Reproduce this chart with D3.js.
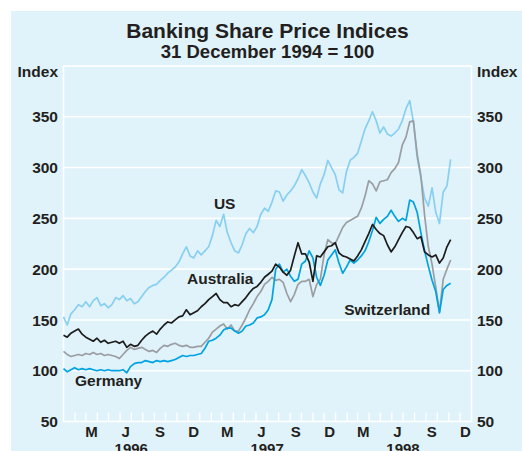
<!DOCTYPE html>
<html>
<head>
<meta charset="utf-8">
<script src="https://cdn.jsdelivr.net/npm/d3@7"></script>
<style>
  html, body { margin: 0; padding: 0; background: #fff; }
  svg { display: block; font-family: "Liberation Sans", Arial, Helvetica, sans-serif; font-weight: bold; }
</style>
</head>
<body>
<div id="chart"></div>
<script>
// observations every 10 days from the start date
const startDate = "1996-01-01";
const stepDays = 10;

const usValues = [153,145,156,160,165,163,168,163,169,172, 164,166,162,165,172,170,174,169,171,166,
  168,173,178,182,184,185,189,192,196,199, 202,207,215,222,213,211,218,214,218,222,
  233,248,242,254,236,226,218,216,224,235, 240,236,242,254,260,257,266,277,276,267,
  273,277,282,289,298,292,285,276,270,284, 293,307,300,293,278,275,296,307,310,314,
  326,338,346,355,346,334,340,333,331,334, 338,346,358,366,345,310,290,270,262,280,
  256,245,276,282,308];

const australiaValues = [135,133,137,139,141,136,133,131,129,132, 128,130,127,128,129,127,129,123,126,124,
  125,130,134,137,139,136,141,145,148,147, 150,153,154,160,155,157,159,163,166,170,
  173,176,170,167,167,163,165,164,168,172, 177,181,183,187,192,195,198,205,202,197,
  194,199,213,226,215,215,207,188,213,212, 217,222,223,226,216,213,212,210,208,213,
  219,227,235,244,239,235,233,224,217,222, 229,236,242,241,236,230,232,217,214,212,
  214,206,211,222,229];

const germanyValues = [102,99,101,103,101,102,101,102,101,100, 101,100,101,100,100,100,101,98,104,107,
  108,108,110,109,108,110,109,110,109,110, 111,113,115,114,115,115,116,117,122,129,
  130,132,135,140,142,142,139,137,139,144, 145,147,152,153,155,160,170,200,205,197,
  200,193,188,190,205,208,218,211,192,184, 194,209,214,219,206,196,202,209,206,209,
  213,218,227,238,251,245,249,252,258,252, 247,250,248,268,266,256,236,218,203,189,
  178,157,180,184,186];

const switzerlandValues = [119,116,114,115,116,115,117,116,118,116, 117,115,116,115,114,112,116,120,123,121,
  122,123,121,119,120,118,122,125,124,126, 127,125,124,125,123,123,124,124,128,132,
  138,141,144,146,141,145,139,139,145,152, 160,166,173,178,185,188,192,189,190,187,
  176,168,175,185,188,188,190,173,185,190, 214,229,226,225,233,241,246,248,250,252,
  260,272,287,284,277,286,287,288,295,299, 305,322,330,345,346,313,292,253,222,205,
  182,158,190,200,209];

const seriesNames = ["US", "Switzerland", "Germany", "Australia"];
const seriesColors = ["#88cff1", "#9a9ea2", "#00a3e2", "#1c1c1c"];
const yTicks = [50, 100, 150, 200, 250, 300, 350];
const years = [1996, 1997, 1998];
const monthLetters = ["M", "J", "S", "D"];
const monthIdx = [2, 5, 8, 11];
const labelDates = ["1997-02-08", "1998-01-24", "1996-02-01", "1996-11-28"];
const labelValues = [259, 155, 85, 185.6];

const W = 522, H = 451;
const plot = { left: 63.5, right: 471.5, top: 66, bottom: 421.5 };
const ink = "#231f20";

const svg = d3.select("#chart").append("svg")
  .attr("width", W).attr("height", H);

// panel background
svg.append("rect")
  .attr("x", 11).attr("y", 11)
  .attr("width", W - 11).attr("height", H - 11)
  .attr("fill", "#e0f2fa");

const x = d3.scaleUtc()
  .domain([new Date(Date.UTC(1996, 0, 1)), new Date(Date.UTC(1999, 0, 1))])
  .range([plot.left, plot.right]);
const y = d3.scaleLinear().domain([50, 400]).range([plot.bottom, plot.top]);

const start = new Date(startDate + "T00:00:00Z");
const dates = usValues.map((_, i) => d3.utcDay.offset(start, i * stepDays));
const allSeries = [usValues, switzerlandValues, germanyValues, australiaValues];

// gridlines
svg.append("g").selectAll("line")
  .data(yTicks.slice(1))
  .join("line")
  .attr("x1", plot.left).attr("x2", plot.right)
  .attr("y1", d => y(d)).attr("y2", d => y(d))
  .attr("stroke", "#fff").attr("stroke-width", 1.6);

// frame
svg.append("rect")
  .attr("x", plot.left).attr("y", plot.top)
  .attr("width", plot.right - plot.left).attr("height", plot.bottom - plot.top)
  .attr("fill", "none").attr("stroke", "#fff").attr("stroke-width", 1.6);

// monthly ticks along the bottom
const monthTicks = d3.utcMonth.range(new Date(Date.UTC(1996, 1, 1)), new Date(Date.UTC(1999, 0, 1)));
svg.append("g").selectAll("line")
  .data(monthTicks)
  .join("line")
  .attr("x1", d => x(d)).attr("x2", d => x(d))
  .attr("y1", plot.bottom).attr("y2", plot.bottom - 9)
  .attr("stroke", "#fff").attr("stroke-width", 1.4);

// y axis labels both sides
const yl = svg.append("g").attr("fill", ink).attr("font-size", 15.5);
yl.selectAll("text.l").data(yTicks).join("text")
  .attr("class", "l")
  .attr("x", 58).attr("y", d => y(d)).attr("dy", "0.36em")
  .attr("text-anchor", "end").text(d => d);
yl.selectAll("text.r").data(yTicks).join("text")
  .attr("class", "r")
  .attr("x", 477).attr("y", d => y(d)).attr("dy", "0.36em")
  .attr("text-anchor", "start").text(d => d);
yl.append("text").attr("x", 58).attr("y", 76.5).attr("text-anchor", "end").text("Index");
yl.append("text").attr("x", 477).attr("y", 76.5).attr("text-anchor", "start").text("Index");

// month and year labels (years sit at the bottom edge, as in the original)
const monthLabelData = years.flatMap(yr => monthIdx.map((m, k) => ({ d: new Date(Date.UTC(yr, m, 16)), t: monthLetters[k] })));
const xl = svg.append("g").attr("fill", ink).attr("font-size", 15).attr("text-anchor", "middle");
xl.selectAll("text.m").data(monthLabelData).join("text")
  .attr("class", "m")
  .attr("x", d => x(d.d)).attr("y", 437).text(d => d.t);
xl.selectAll("text.y").data(years).join("text")
  .attr("class", "y")
  .attr("x", d => x(new Date(Date.UTC(d, 6, 1)))).attr("y", 454).text(d => d);

// series lines
const line = d3.line()
  .x((d, i) => x(dates[i]))
  .y(d => y(d));
svg.append("g").selectAll("path")
  .data(allSeries)
  .join("path")
  .attr("d", d => line(d))
  .attr("fill", "none")
  .attr("stroke", (d, i) => seriesColors[i])
  .attr("stroke-width", 1.7)
  .attr("stroke-linejoin", "round");

// series names
svg.append("g").attr("fill", ink).attr("font-size", 15.5)
  .selectAll("text").data(seriesNames).join("text")
  .attr("x", (d, i) => x(new Date(labelDates[i] + "T00:00:00Z")))
  .attr("y", (d, i) => y(labelValues[i]))
  .text(d => d);

// title
const cx = (plot.left + plot.right) / 2;
svg.append("text").attr("x", cx).attr("y", 37.5).attr("text-anchor", "middle")
  .attr("font-size", 21).attr("fill", ink).text("Banking Share Price Indices");
svg.append("text").attr("x", cx).attr("y", 57.5).attr("text-anchor", "middle")
  .attr("font-size", 18.5).attr("fill", ink).text("31 December 1994 = 100");
</script>
</body>
</html>
